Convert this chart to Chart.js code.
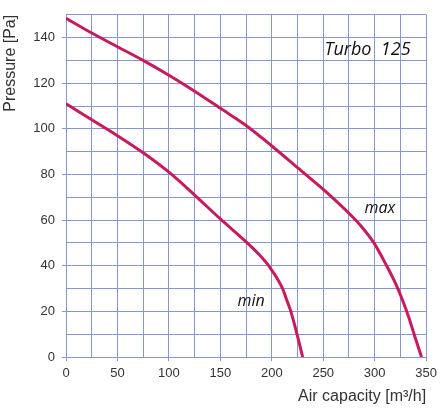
<!DOCTYPE html>
<html>
<head>
<meta charset="utf-8">
<script src="https://cdn.jsdelivr.net/npm/chart.js@4/dist/chart.umd.min.js"></script>
<style>
  html, body { margin: 0; padding: 0; background: #fff; }
  .wrap { width: 442px; height: 410px; }
</style>
</head>
<body>
<div class="wrap"><canvas id="fan"></canvas></div>
<script>
// fan curve values (air capacity m3/h, pressure Pa)
const maxFlow = [0, 25, 50, 75, 100, 125, 150, 175, 200, 225, 250, 275, 287.5, 300, 311, 320, 327, 333, 339, 345.5];
const maxPressure = [148.5, 142, 136, 130, 123.5, 116.5, 109, 101.5, 92.5, 83, 73.5, 63, 57, 49.5, 40.5, 32.5, 25, 17.5, 9, 0];
const minFlow = [0, 25, 50, 75, 100, 125, 150, 175, 187.5, 197, 210.5, 214.5, 218.5, 224.5, 230];
const minPressure = [111, 104, 97, 89.5, 81, 71, 60.5, 50.5, 45, 40, 30, 25, 20, 10, 0];

const xTicks = [0, 50, 100, 150, 200, 250, 300, 350];
const yTicks = [0, 20, 40, 60, 80, 100, 120, 140];

const labels = [
  { text: 'Turbo  125', x: 293, y: 134.5, size: 18 },
  { text: 'max', x: 305, y: 65, size: 16 },
  { text: 'min', x: 180, y: 24.5, size: 16 }
];

const gridBlue = '#8497cf';
const curveRed = '#c81a5c';

const toPoints = (xs, ys) => xs.map((x, i) => ({ x, y: ys[i] }));

// italic captions placed in data coordinates
const captionPlugin = {
  id: 'captions',
  afterDatasetsDraw(chart) {
    const { ctx, scales } = chart;
    ctx.save();
    ctx.fillStyle = '#111';
    ctx.textAlign = 'center';
    ctx.textBaseline = 'middle';
    labels.forEach((l) => {
      ctx.font = `italic ${l.size}px "Open Sans"`;
      ctx.fillText(l.text, scales.x.getPixelForValue(l.x), scales.y.getPixelForValue(l.y));
    });
    ctx.restore();
  }
};

const tickFont = { family: '"Liberation Sans", Arial', size: 13 };
const titleFont = { family: '"Liberation Sans", Arial', size: 16 };

new Chart(document.getElementById('fan'), {
  type: 'scatter',
  data: {
    datasets: [
      { label: 'max', data: toPoints(maxFlow, maxPressure), showLine: true, borderColor: curveRed, borderWidth: 3, pointRadius: 0, cubicInterpolationMode: 'monotone' },
      { label: 'min', data: toPoints(minFlow, minPressure), showLine: true, borderColor: curveRed, borderWidth: 3, pointRadius: 0, cubicInterpolationMode: 'monotone' }
    ]
  },
  options: {
    responsive: true,
    maintainAspectRatio: false,
    animation: false,
    layout: { padding: { top: 7, right: 14, left: 0, bottom: 0 } },
    plugins: { legend: { display: false }, tooltip: { enabled: false } },
    scales: {
      x: {
        type: 'linear',
        min: 0,
        max: 350,
        afterFit: (scale) => { scale.height = 53; },
        ticks: {
          stepSize: 25,
          color: '#333',
          font: tickFont,
          padding: 5,
          maxRotation: 0,
          autoSkip: false,
          callback: (v) => (xTicks.includes(v) ? v : '')
        },
        grid: {
          color: gridBlue,
          lineWidth: 1,
          tickLength: 4,
          tickColor: (c) => (xTicks.includes(c.tick && c.tick.value) ? gridBlue : 'rgba(0,0,0,0)')
        },
        border: { color: gridBlue },
        title: {
          display: true,
          align: 'end',
          text: 'Air capacity [m³/h]',
          color: '#333',
          font: titleFont,
          padding: { top: 6, bottom: 4 }
        }
      },
      y: {
        type: 'linear',
        min: 0,
        max: 150,
        afterFit: (scale) => { scale.width = 66; },
        ticks: {
          stepSize: 10,
          color: '#333',
          font: tickFont,
          padding: 7,
          autoSkip: false,
          callback: (v) => (yTicks.includes(v) ? v : '')
        },
        grid: {
          color: gridBlue,
          lineWidth: 1,
          tickLength: 4,
          tickColor: (c) => (yTicks.includes(c.tick && c.tick.value) ? gridBlue : 'rgba(0,0,0,0)')
        },
        border: { color: gridBlue },
        title: {
          display: true,
          align: 'end',
          text: 'Pressure [Pa]',
          color: '#333',
          font: titleFont,
          padding: { top: 1, bottom: 4 }
        }
      }
    }
  },
  plugins: [captionPlugin]
});
</script>
</body>
</html>
